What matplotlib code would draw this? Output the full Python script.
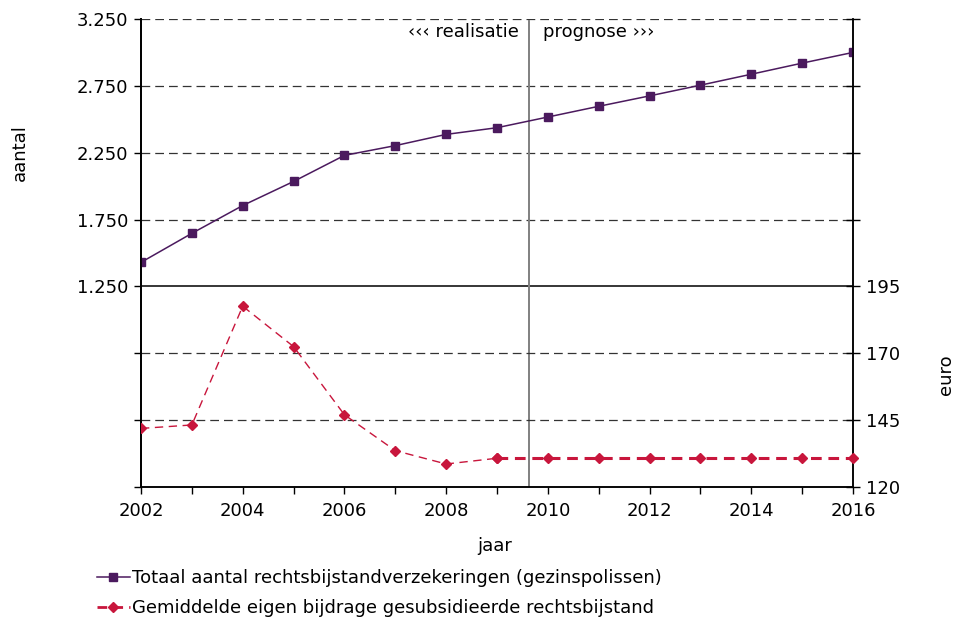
import matplotlib.pyplot as plt
from matplotlib.ticker import FuncFormatter, MultipleLocator
from matplotlib.lines import Line2D

# data
jaren = list(range(2002, 2017))
totaal = [1430, 1647, 1855, 2035, 2230, 2303, 2387, 2437, 2517,
          2597, 2675, 2755, 2837, 2920, 3000]
bijdrage = [141.9, 143.2, 187.6, 172.5, 147.0, 133.6, 128.6, 130.75,
            130.75, 130.75, 130.75, 130.75, 130.75, 130.75, 130.75]
scheiding = 2009.63  # grens realisatie / prognose

left_labels = [1250, 1750, 2250, 2750, 3250]
right_labels = [120, 145, 170, 195]

purple = "#4B1A5E"
red = "#C8163C"
fs = 13

plt.rcParams['font.family'] = ['DejaVu Sans']

fig = plt.figure(figsize=(9.55, 6.18), dpi=100)
ax = fig.add_axes([141/955, 1-487/618, (853-141)/955, (487-19)/618])
ax2 = ax.twinx()

ax.set_xlim(2002, 2016)
ax.set_ylim(-250, 3250)
ax2.set_ylim(120, 295)

# grid lines
dash = (0, (7, 4))
for v in [1750, 2250, 2750, 3250]:
    ax.axhline(v, color="#333333", lw=0.9, linestyle=dash, zorder=1)
for v in [145, 170]:
    ax2.axhline(v, color="#333333", lw=0.9, linestyle=dash, zorder=1)
ax.axhline(1250, color="black", lw=1.1, zorder=2)
ax.axvline(scheiding, color="#808080", lw=1.4, ymax=0.996, zorder=2)

# series
ax.plot(jaren, totaal, color=purple, lw=1.1, marker="s", markersize=5.5, zorder=5)
ax2.plot(jaren[:8], bijdrage[:8], color=red, lw=1.0, linestyle=(0, (6, 4)),
         marker="D", markersize=5, zorder=5)
ax2.plot(jaren[7:], bijdrage[7:], color=red, lw=2.2, linestyle=(0, (3.5, 2.2)),
         marker="D", markersize=5, zorder=5, clip_on=False)

ax.annotate("\u2039\u2039\u2039 realisatie", xy=(scheiding, 3250), xytext=(-7, -3),
            textcoords="offset points", ha="right", va="top", fontsize=fs)
ax.annotate("prognose \u203a\u203a\u203a", xy=(scheiding, 3250), xytext=(10, -3),
            textcoords="offset points", ha="left", va="top", fontsize=fs)

# axes formatting
fmt = FuncFormatter(lambda v, p: f"{int(v):,}".replace(",", "."))
ax.set_yticks(left_labels)
ax.yaxis.set_major_formatter(fmt)
ax.set_yticks([-250, 250, 750], minor=True)
ax.tick_params(axis="y", which="both", direction="out", length=5, width=1,
               labelsize=fs, pad=4)

ax2.set_yticks(right_labels)
ax2.set_yticks([220, 245, 270, 295], minor=True)
ax2.tick_params(axis="y", which="both", direction="inout", length=10, width=1,
                labelsize=fs, pad=4)

ax.xaxis.set_major_locator(MultipleLocator(2))
ax.xaxis.set_minor_locator(MultipleLocator(1))
ax.tick_params(axis="x", which="both", direction="out", length=5, width=1,
               labelsize=fs, pad=6)

for a in (ax, ax2):
    a.spines["top"].set_visible(False)
    a.spines["left"].set_linewidth(1.3)
    a.spines["right"].set_linewidth(1.1)
    a.spines["bottom"].set_linewidth(1.1)

fig.text(20/955, 1-153/618, "aantal", rotation=90, ha="center", va="center", fontsize=fs)
fig.text(946/955, 1-375/618, "euro", rotation=90, ha="center", va="center", fontsize=fs)
fig.text(495/955, 1-546/618, "jaar", ha="center", va="center", fontsize=fs)

handles = [
    Line2D([], [], color=purple, lw=1.1, marker="s", markersize=5.5),
    Line2D([], [], color=red, lw=2, linestyle=(0, (3.5, 2.2)), marker="D", markersize=5),
]
labels = ["Totaal aantal rechtsbijstandverzekeringen (gezinspolissen)",
          "Gemiddelde eigen bijdrage gesubsidieerde rechtsbijstand"]
fig.legend(handles, labels, loc="upper left", bbox_to_anchor=(90/955, 1-562/618),
           frameon=False, fontsize=fs, handlelength=1.8, handletextpad=0.15,
           labelspacing=0.65, borderaxespad=0)

fig.savefig("out.png", dpi=100)
